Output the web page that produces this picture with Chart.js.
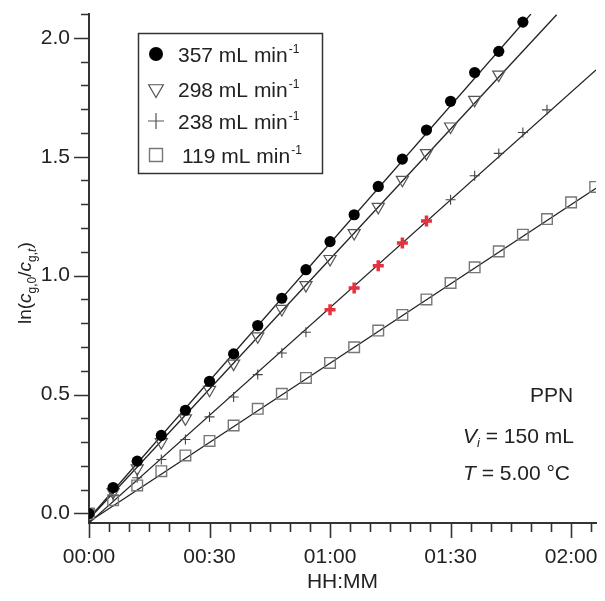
<!DOCTYPE html>
<html>
<head>
<meta charset="utf-8">
<script src="https://cdn.jsdelivr.net/npm/chart.js@4.4.0/dist/chart.umd.min.js"></script>
<style>
  body { margin: 0; background: #fff; }
  canvas { display: block; }
</style>
</head>
<body>
<canvas id="grafico" width="605" height="601"></canvas>
<script>
// minutes since start, ln(cg,0/cg,t)
const t357 = [0, 6, 12, 18, 24, 30, 36, 42, 48, 54, 60, 66, 72, 78, 84, 90, 96, 102, 108];
const v357 = [0, 0.109, 0.22, 0.328, 0.434, 0.556, 0.671, 0.79, 0.905, 1.025, 1.143, 1.256, 1.375, 1.49, 1.612, 1.733, 1.854, 1.943, 2.066];

const t298 = [0, 6, 12, 18, 24, 30, 36, 42, 48, 54, 60, 66, 72, 78, 84, 90, 96, 102];
const v298 = [0, 0.09, 0.19, 0.30, 0.40, 0.52, 0.63, 0.745, 0.86, 0.96, 1.07, 1.179, 1.289, 1.403, 1.515, 1.627, 1.739, 1.845];

const t238 = [0, 6, 12, 18, 24, 30, 36, 42, 48, 54, 60, 66, 72, 78, 84, 90, 96, 102, 108, 114];
const v238 = [0, 0.075, 0.15, 0.227, 0.311, 0.406, 0.49, 0.584, 0.675, 0.762, 0.857, 0.948, 1.042, 1.137, 1.23, 1.319, 1.42, 1.514, 1.602, 1.697];
const resaltados238 = [60, 66, 72, 78, 84];

const t119 = [0, 6, 12, 18, 24, 30, 36, 42, 48, 54, 60, 66, 72, 78, 84, 90, 96, 102, 108, 114, 120, 126];
const v119 = [0, 0.056, 0.118, 0.178, 0.244, 0.305, 0.37, 0.44, 0.503, 0.57, 0.633, 0.699, 0.769, 0.835, 0.9, 0.969, 1.035, 1.102, 1.172, 1.238, 1.308, 1.373];

// fitted lines: [start, end]
const ajusteT357 = [0, 110], ajusteV357 = [-0.02, 2.10];
const ajusteT298 = [0, 116.4], ajusteV298 = [-0.023, 2.097];
const ajusteT238 = [0, 126.2], ajusteV238 = [-0.04, 1.865];
const ajusteT119 = [0, 126.2], ajusteV119 = [-0.035, 1.367];

const leyenda = ['357', '298', '238', '119'];
const ejeX = { min: 0, max: 126.2, paso: 5, mayor: 30 };
const ejeY = { min: -0.04, max: 2.1, paso: 0.1 };

const FUENTE = '"Liberation Sans", Arial, sans-serif';
Chart.defaults.font.family = FUENTE;
Chart.defaults.color = '#222';

function puntos(ts, vs) {
  return ts.map((t, i) => ({ x: t, y: vs[i] }));
}

function linea(ts, vs) {
  return {
    data: puntos(ts, vs),
    showLine: true,
    borderColor: '#222',
    borderWidth: 1.3,
    pointRadius: 0,
    order: 5
  };
}

function hhmm(min) {
  const h = Math.floor(min / 60), m = min % 60;
  return String(h).padStart(2, '0') + ':' + String(m).padStart(2, '0');
}

function marcador(ctx, tipo, x, y, r) {
  ctx.beginPath();
  if (tipo === 'circle') {
    ctx.arc(x, y, r, 0, Math.PI * 2);
    ctx.fillStyle = '#000';
    ctx.fill();
    return;
  }
  if (tipo === 'triangle') {
    ctx.moveTo(x, y + r);
    ctx.lineTo(x - r * 0.866, y - r / 2);
    ctx.lineTo(x + r * 0.866, y - r / 2);
    ctx.closePath();
    ctx.strokeStyle = '#555'; ctx.lineWidth = 1.2;
  } else if (tipo === 'cross') {
    ctx.moveTo(x - r, y); ctx.lineTo(x + r, y);
    ctx.moveTo(x, y - r); ctx.lineTo(x, y + r);
    ctx.strokeStyle = '#555'; ctx.lineWidth = 1.2;
  } else {
    ctx.rect(x - r, y - r, 2 * r, 2 * r);
    ctx.strokeStyle = '#777'; ctx.lineWidth = 1.4;
  }
  ctx.stroke();
}

const extras = {
  id: 'extras',
  afterDraw(chart) {
    const { ctx, scales: { x, y }, chartArea } = chart;
    ctx.save();
    // ticks
    ctx.strokeStyle = '#333';
    ctx.lineWidth = 1.6;
    ctx.beginPath();
    x.ticks.forEach(t => {
      const px = Math.round(x.getPixelForValue(t.value)) + 0.5;
      const largo = Math.round(t.value) % ejeX.mayor === 0 ? 15 : 9;
      ctx.moveTo(px, chartArea.bottom);
      ctx.lineTo(px, chartArea.bottom + largo);
    });
    y.ticks.forEach(t => {
      const py = Math.round(y.getPixelForValue(t.value)) + 0.5;
      const largo = Math.round(t.value * 10) % 5 === 0 ? 15 : 8;
      ctx.moveTo(chartArea.left, py);
      ctx.lineTo(chartArea.left - largo, py);
    });
    ctx.stroke();

    // legend box
    ctx.fillStyle = '#fff';
    ctx.fillRect(138, 33, 184, 140);
    ctx.strokeStyle = '#333';
    ctx.lineWidth = 1.5;
    ctx.strokeRect(138.5, 33.5, 184, 140);
    const tipos = ['circle', 'triangle', 'cross', 'rect'];
    const radios = [7, 8.5, 8, 6.5];
    const filas = [54, 89, 121, 155];
    const textoX = [178, 178, 178, 182];
    tipos.forEach((tipo, i) => {
      marcador(ctx, tipo, 156, filas[i], radios[i]);
      ctx.fillStyle = '#222';
      ctx.font = '21px ' + FUENTE;
      ctx.textBaseline = 'alphabetic';
      ctx.textAlign = 'left';
      const txt = leyenda[i] + ' mL min';
      ctx.fillText(txt, textoX[i], filas[i] + 8);
      const w = ctx.measureText(txt).width;
      ctx.font = '12px ' + FUENTE;
      ctx.fillText('-1', textoX[i] + w + 1, filas[i] - 1);
    });

    // y title
    ctx.translate(31, 324);
    ctx.rotate(-Math.PI / 2);
    ctx.fillStyle = '#222';
    let cx = 0;
    const trozos = [
      ['ln(', '19px', 0], ['c', 'italic 19px', 0], ['g,0', '12px', 5],
      ['/', '19px', 0], ['c', 'italic 19px', 0], ['g,', '12px', 5], ['t', 'italic 12px', 5], [')', '19px', 0]
    ];
    trozos.forEach(([s, f, dy]) => {
      ctx.font = f + ' ' + FUENTE;
      ctx.fillText(s, cx, dy);
      cx += ctx.measureText(s).width;
    });
    ctx.setTransform(1, 0, 0, 1, 0, 0);

    // annotations
    const escribir = (partes, x0, base) => {
      let px = x0;
      partes.forEach(([s, f, dy]) => {
        ctx.font = f + ' ' + FUENTE;
        ctx.fillText(s, px, base + dy);
        px += ctx.measureText(s).width;
      });
    };
    escribir([['PPN', '21px', 0]], 530, 402);
    escribir([['V', 'italic 21px', 0], ['i', 'italic 13px', 4], [' = 150 mL', '21px', 0]], 463, 443);
    escribir([['T', 'italic 21px', 0], [' = 5.00 °C', '21px', 0]], 463, 480);
    ctx.restore();
  }
};

function sinPadding(s) {
  s.paddingTop = 0; s.paddingBottom = 0; s.paddingLeft = 0; s.paddingRight = 0;
}

new Chart(document.getElementById('grafico'), {
  type: 'scatter',
  data: {
    datasets: [
      linea(ajusteT357, ajusteV357),
      linea(ajusteT298, ajusteV298),
      linea(ajusteT238, ajusteV238),
      linea(ajusteT119, ajusteV119),
      {
        data: puntos(t119, v119),
        pointStyle: 'rect',
        pointRadius: 7.5,
        pointBorderColor: '#777',
        pointBackgroundColor: 'rgba(0,0,0,0)',
        pointBorderWidth: 1.4,
        order: 1
      },
      {
        data: puntos(t238, v238),
        pointStyle: 'cross',
        pointRadius: ctx => resaltados238.includes(t238[ctx.dataIndex]) ? 5.5 : 5,
        pointBorderColor: ctx => resaltados238.includes(t238[ctx.dataIndex]) ? '#e5323e' : '#444',
        pointBorderWidth: ctx => resaltados238.includes(t238[ctx.dataIndex]) ? 3.5 : 1.1,
        order: 1
      },
      {
        data: puntos(t298, v298),
        pointStyle: 'triangle',
        rotation: 180,
        pointRadius: 7,
        pointBorderColor: '#555',
        pointBackgroundColor: 'rgba(0,0,0,0)',
        pointBorderWidth: 1.2,
        order: 1
      },
      {
        data: puntos(t357, v357),
        pointStyle: 'circle',
        pointRadius: 5.6,
        pointBorderColor: '#000',
        pointBackgroundColor: '#000',
        pointBorderWidth: 0,
        order: 0
      }
    ]
  },
  options: {
    responsive: false,
    animation: false,
    layout: { padding: { top: 14, right: 5, left: 0, bottom: 0 } },
    plugins: { legend: { display: false }, tooltip: { enabled: false } },
    scales: {
      x: {
        type: 'linear',
        min: ejeX.min,
        max: ejeX.max,
        grid: { display: false, drawTicks: false },
        border: { color: '#333', width: 2 },
        ticks: {
          stepSize: ejeX.paso,
          includeBounds: false,
          maxRotation: 0,
          autoSkip: false,
          padding: 22,
          font: { size: 21 },
          color: '#222',
          callback: v => Math.round(v) % ejeX.mayor === 0 ? hhmm(Math.round(v)) : ''
        },
        title: { display: true, text: 'HH:MM', font: { size: 21 }, color: '#222', padding: { top: 0, bottom: 6 } },
        afterFit: s => { s.height = 78; sinPadding(s); }
      },
      y: {
        min: ejeY.min,
        max: ejeY.max,
        grid: { display: false, drawTicks: false },
        border: { color: '#333', width: 2 },
        ticks: {
          stepSize: ejeY.paso,
          includeBounds: false,
          autoSkip: false,
          padding: 19,
          font: { size: 21 },
          color: '#222',
          callback: v => Math.round(v * 10) % 5 === 0 ? v.toFixed(1) : ''
        },
        afterFit: s => { s.width = 89; sinPadding(s); }
      }
    }
  },
  plugins: [extras]
});
</script>
</body>
</html>
